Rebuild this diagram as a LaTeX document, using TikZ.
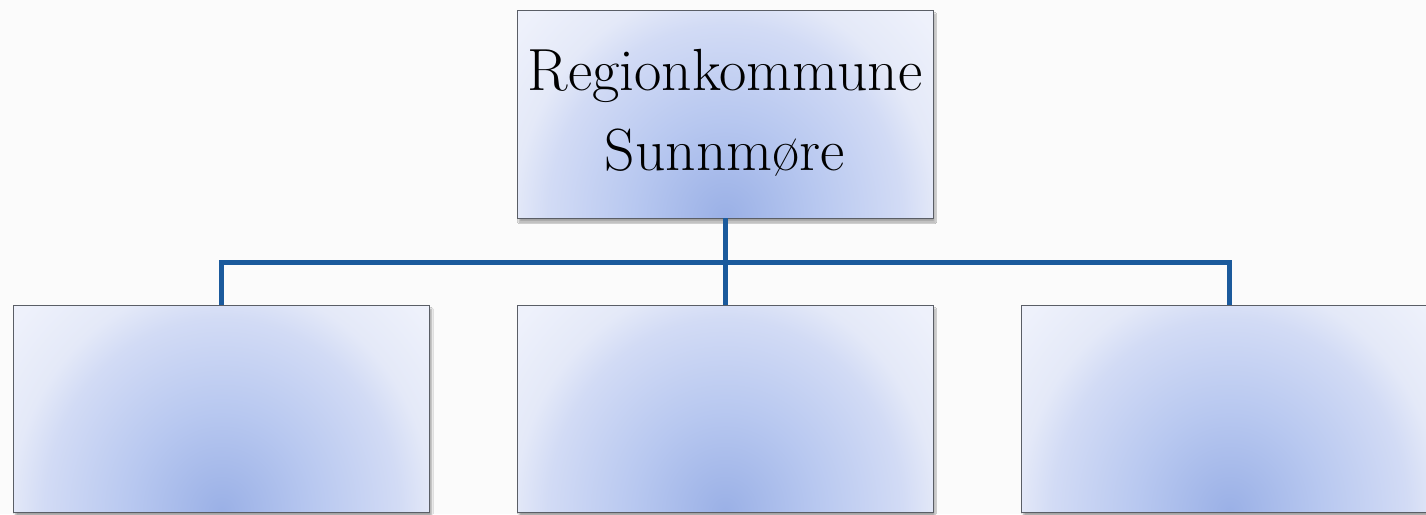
\documentclass[tikz,border=0pt]{standalone}
\usetikzlibrary{shadows.blur}
\definecolor{bgc}{HTML}{FBFBFB}
\definecolor{linec}{HTML}{1B5A9C}
\definecolor{edgec}{HTML}{5A5E66}
\definecolor{sA}{HTML}{9AB0E6}
\definecolor{sB}{HTML}{B8C8F0}
\definecolor{sC}{HTML}{D2DBF5}
\definecolor{sD}{HTML}{E4E9F8}
\definecolor{sE}{HTML}{EEF1FB}
\pgfdeclareradialshading{boxshade}{\pgfpoint{0bp}{0bp}}{%
  color(0bp)=(sA); color(11bp)=(sB); color(21bp)=(sC); color(25bp)=(sD); color(32bp)=(sE); color(50bp)=(sE)}
\tikzset{
  orgbox/.style={rectangle, draw=edgec, line width=0.9pt, fill=sE,
    minimum width=416pt, minimum height=207pt, inner sep=0pt,
    path picture={\shade[shading=boxshade]
      ([xshift=-211pt,yshift=-230pt]path picture bounding box.south) rectangle
      ([xshift=211pt,yshift=230pt]path picture bounding box.south);},
    blur shadow={shadow xshift=2pt, shadow yshift=-4pt, shadow blur steps=6, shadow opacity=35}},
  conn/.style={draw=linec, line width=5pt, line join=miter}
}
\begin{document}
\begin{tikzpicture}[x=1pt,y=-1pt]
\useasboundingbox (0,0) rectangle (1426,514);
\begin{scope}
\clip (0,0) rectangle (1426,514);
\fill[bgc] (0,0) rectangle (1426,514);
\node[orgbox, minimum height=208pt, align=center, text depth=8pt,
  font=\fontsize{59.5}{80}\selectfont] (top) at (725,114) {Regionkommune\\Sunnmøre};
\node[orgbox] (left) at (221.5,408.5) {};
\node[orgbox] (mid) at (725,408.5) {};
\node[orgbox] (right) at (1229.5,408.5) {};
\coordinate (bus) at (725,262);
\draw[conn] (top.south) -- (bus);
\draw[conn] (left.north) |- (bus) -| (right.north);
\draw[conn] (mid.north) -- (bus);
\end{scope}
\end{tikzpicture}
\end{document}
